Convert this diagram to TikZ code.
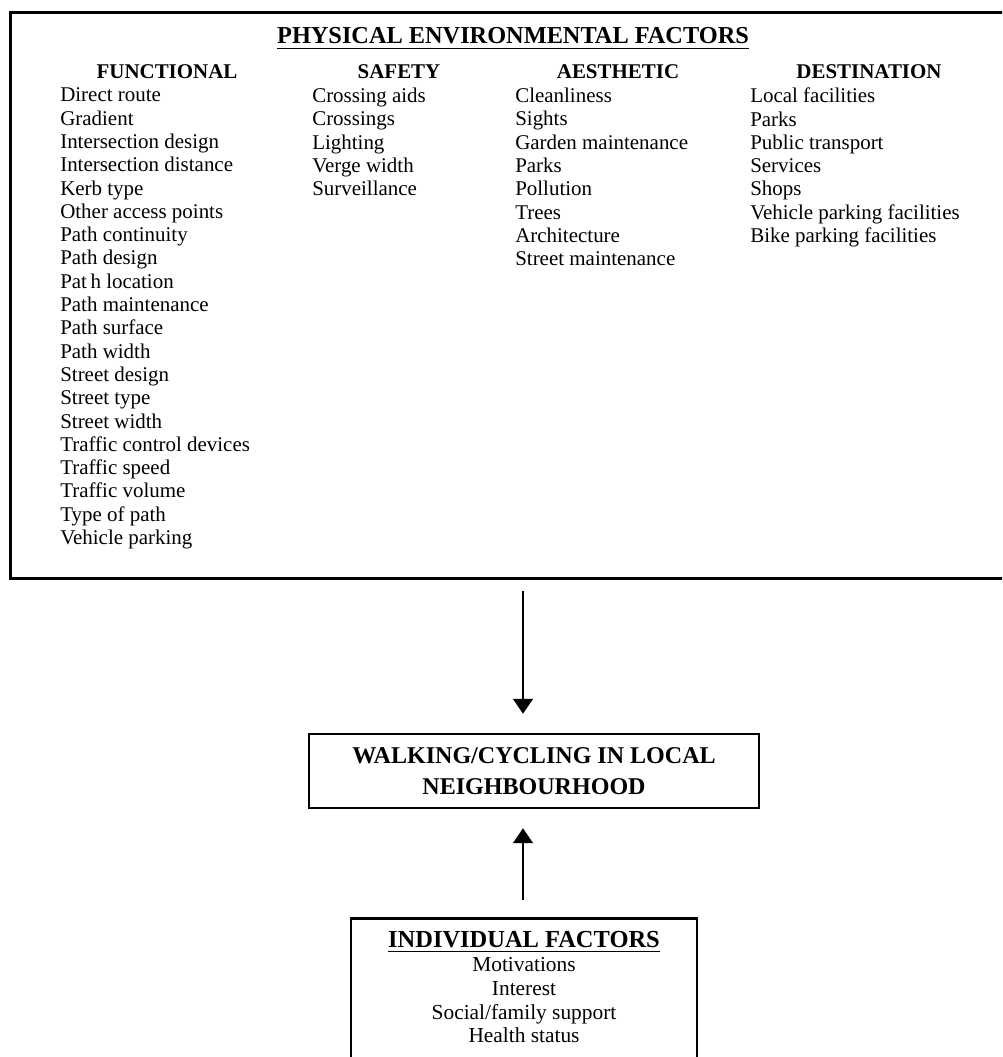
\documentclass[tikz,border=0pt]{standalone}
\usepackage{fontspec}
\setmainfont{Liberation Serif}
\usetikzlibrary{arrows.meta, positioning}

\newcommand{\itemfont}{\fontsize{14.9}{16.57}\selectfont}
\newcommand{\headfont}{\fontsize{17.1}{22}\selectfont\bfseries}
\newsavebox{\ulbox}
\newcommand{\ulined}[1]{\sbox\ulbox{#1}\rlap{\rule[-3.6pt]{\wd\ulbox}{1pt}}\usebox\ulbox}

\begin{document}
\begin{tikzpicture}[x=0.025cm, y=-0.025cm, >={Triangle[width=0.5cm, length=0.37cm, line width=0.3pt]},
  framebox/.style={draw, line width=1.9pt, inner sep=0pt},
  colhead/.style={anchor=base, inner sep=0pt, font=\itemfont\bfseries},
  collist/.style={anchor=north west, inner sep=0pt, align=left, font=\itemfont},
  conn/.style={->, line width=1.9pt}]
  \useasboundingbox (0,0) rectangle (1002,1057);
  \clip (0,0) rectangle (1002,1057);

  % physical environment box
  \node[framebox, anchor=north west, minimum width=25.3cm, minimum height=14.15cm] (phys) at (9,11) {};
  \node[anchor=base, inner sep=0pt, font=\fontsize{17.3}{20}\selectfont\bfseries] (physhead) at (513,44) {\ulined{PHYSICAL ENVIRONMENTAL FACTORS}};

  \node[colhead] (funchead) at (167,78.5) {FUNCTIONAL};
  \node[colhead] (safehead) at (399,78.5) {SAFETY};
  \node[colhead] (aesthead) at (618,78.5) {AESTHETIC};
  \node[colhead] (desthead) at (869,78.5) {DESTINATION};

  \node[collist] (funclist) at (60,87.7) {Direct route\\Gradient\\Intersection design\\Intersection distance\\Kerb type\\Other access points\\Path continuity\\Path design\\Pat\,h location\\Path maintenance\\Path surface\\Path width\\Street design\\Street type\\Street width\\Traffic control devices\\Traffic speed\\Traffic volume\\Type of path\\Vehicle parking};
  \node[collist] (safelist) at (312,87.7) {Crossing aids\\Crossings\\Lighting\\Verge width\\Surveillance};
  \node[collist] (aeslist) at (515,87.7) {Cleanliness\\Sights\\Garden maintenance\\Parks\\Pollution\\Trees\\Architecture\\Street maintenance};
  \node[collist] (destlist) at (750,87.7) {Local facilities\\Parks\\Public transport\\Services\\Shops\\Vehicle parking facilities\\Bike parking facilities};

  % outcome
  \node[framebox, minimum width=11.25cm, minimum height=1.85cm, align=center, font=\headfont] (walk) at (534,771) {WALKING/CYCLING IN LOCAL\\NEIGHBOURHOOD};

  % individual box
  \node[framebox, anchor=north, minimum width=8.65cm, minimum height=4.6cm] (indiv) at (524,917) {};
  \node[anchor=north, inner sep=0pt, align=center, font=\fontsize{15.2}{17}\selectfont] (indivlist) at ([yshift=-0.345cm]indiv.north) {{\fontsize{17.4}{17}\selectfont\bfseries\ulined{INDIVIDUAL FACTORS}}\\Motivations\\Interest\\Social/family support\\Health status};

  \coordinate (axis) at (523,0);
  \draw[conn, shorten <=0.275cm, shorten >=0.475cm] (phys.south -| axis) -- (walk.north -| axis);
  \draw[conn, shorten <=0.425cm, shorten >=0.475cm] (indiv.north -| axis) -- (walk.south -| axis);
\end{tikzpicture}
\end{document}
